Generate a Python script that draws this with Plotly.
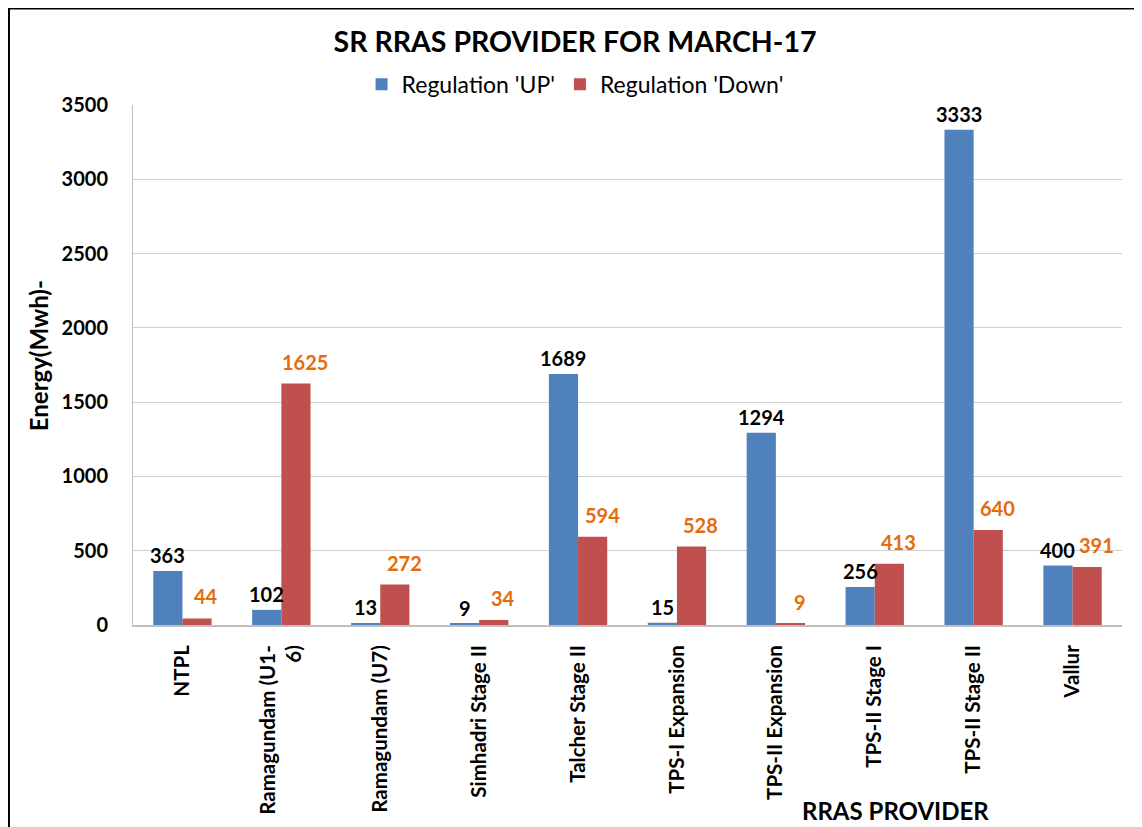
import plotly.graph_objects as go

# SR RRAS provider, March-17
providers = ["NTPL", "Ramagundam (U1-<br>6)", "Ramagundam (U7)", "Simhadri Stage II",
             "Talcher Stage II", "TPS-I Expansion", "TPS-II Expansion", "TPS-II Stage I",
             "TPS-II Stage II", "Vallur"]
reg_up = [363, 102, 13, 9, 1689, 15, 1294, 256, 3333, 400]
reg_down = [44, 1625, 272, 34, 594, 528, 9, 413, 640, 391]
y_ticks = [0, 500, 1000, 1500, 2000, 2500, 3000, 3500]

FONT = "Lato"
BLUE, RED, ORANGE = "#4F81BD", "#C0504D", "#E46C0A"

fig = go.Figure()
fig.add_trace(go.Bar(x=providers, y=reg_up, name="Regulation 'UP'",
                     marker=dict(color=BLUE, line=dict(width=0))))
fig.add_trace(go.Bar(x=providers, y=reg_down, name="Regulation 'Down'",
                     marker=dict(color=RED, line=dict(width=0))))

# page body adds an 8px offset, margins compensate
fig.update_layout(
    width=1142, height=827,
    margin=dict(l=125, r=28, t=97, b=210),
    paper_bgcolor="white", plot_bgcolor="white",
    barmode="group", bargap=0.41, bargroupgap=0,
    font=dict(family=FONT, color="black"),
    title=dict(text="<b>SR RRAS PROVIDER FOR MARCH-17</b>", x=0.4965, xref="container",
               xanchor="center", y=1 - 34 / 827, yanchor="middle",
               font=dict(size=28.5, family=FONT, color="black")),
    legend=dict(orientation="h", x=0.447, xanchor="center", y=1.04, yanchor="middle",
                font=dict(size=23, family=FONT), itemwidth=30, traceorder="normal"),
)

fig.update_yaxes(
    range=[0, 3500], tickvals=y_ticks, showgrid=True, gridcolor="#D0D0D0", gridwidth=1,
    showline=True, linecolor="#BFBFBF", linewidth=1, zeroline=False,
    tickfont=dict(size=20, family=FONT, weight="bold"), ticklabelstandoff=20,
)
fig.update_xaxes(
    showline=True, linecolor="#BFBFBF", linewidth=2, tickangle=-90,
    tickfont=dict(size=20.5, family=FONT, weight="bold"), ticklabelstandoff=10,
)

# value labels (red ones sit a bit to the right and higher, like the excel original)
for p, v in zip(providers, reg_up):
    fig.add_annotation(x=p, y=v, text=f"<b>{v}</b>", showarrow=False, xshift=-14.6,
                       yanchor="bottom", yshift=2, font=dict(size=20, color="black"))
for p, v in zip(providers, reg_down):
    fig.add_annotation(x=p, y=v, text=f"<b>{v}</b>", showarrow=False, xshift=24,
                       yanchor="bottom", yshift=8, font=dict(size=20, color=ORANGE))

# axis titles placed as in the original
fig.add_annotation(text="<b>Energy(Mwh)-</b>", xref="paper", yref="paper",
                   x=-0.096, y=0.517, xanchor="center", yanchor="middle",
                   textangle=-90, showarrow=False, font=dict(size=24, family=FONT))
fig.add_annotation(text="<b>RRAS PROVIDER</b>", xref="paper", yref="paper",
                   x=0.771, y=-0.356, xanchor="center", yanchor="middle",
                   showarrow=False, font=dict(size=24, family=FONT))

# outer chart frame
fig.add_shape(type="line", xref="paper", yref="paper", x0=-0.1254, x1=-0.1254,
              y0=1.1865, y1=-0.42, line=dict(color="black", width=2))
fig.add_shape(type="line", xref="paper", yref="paper", x0=-0.1254, x1=1.0172,
              y0=1.1865, y1=1.1865, line=dict(color="black", width=3))
fig.add_shape(type="line", xref="paper", yref="paper", x0=1.0172, x1=1.0172,
              y0=1.1865, y1=-0.42, line=dict(color="#808080", width=2))

fig.write_html("out.html")
